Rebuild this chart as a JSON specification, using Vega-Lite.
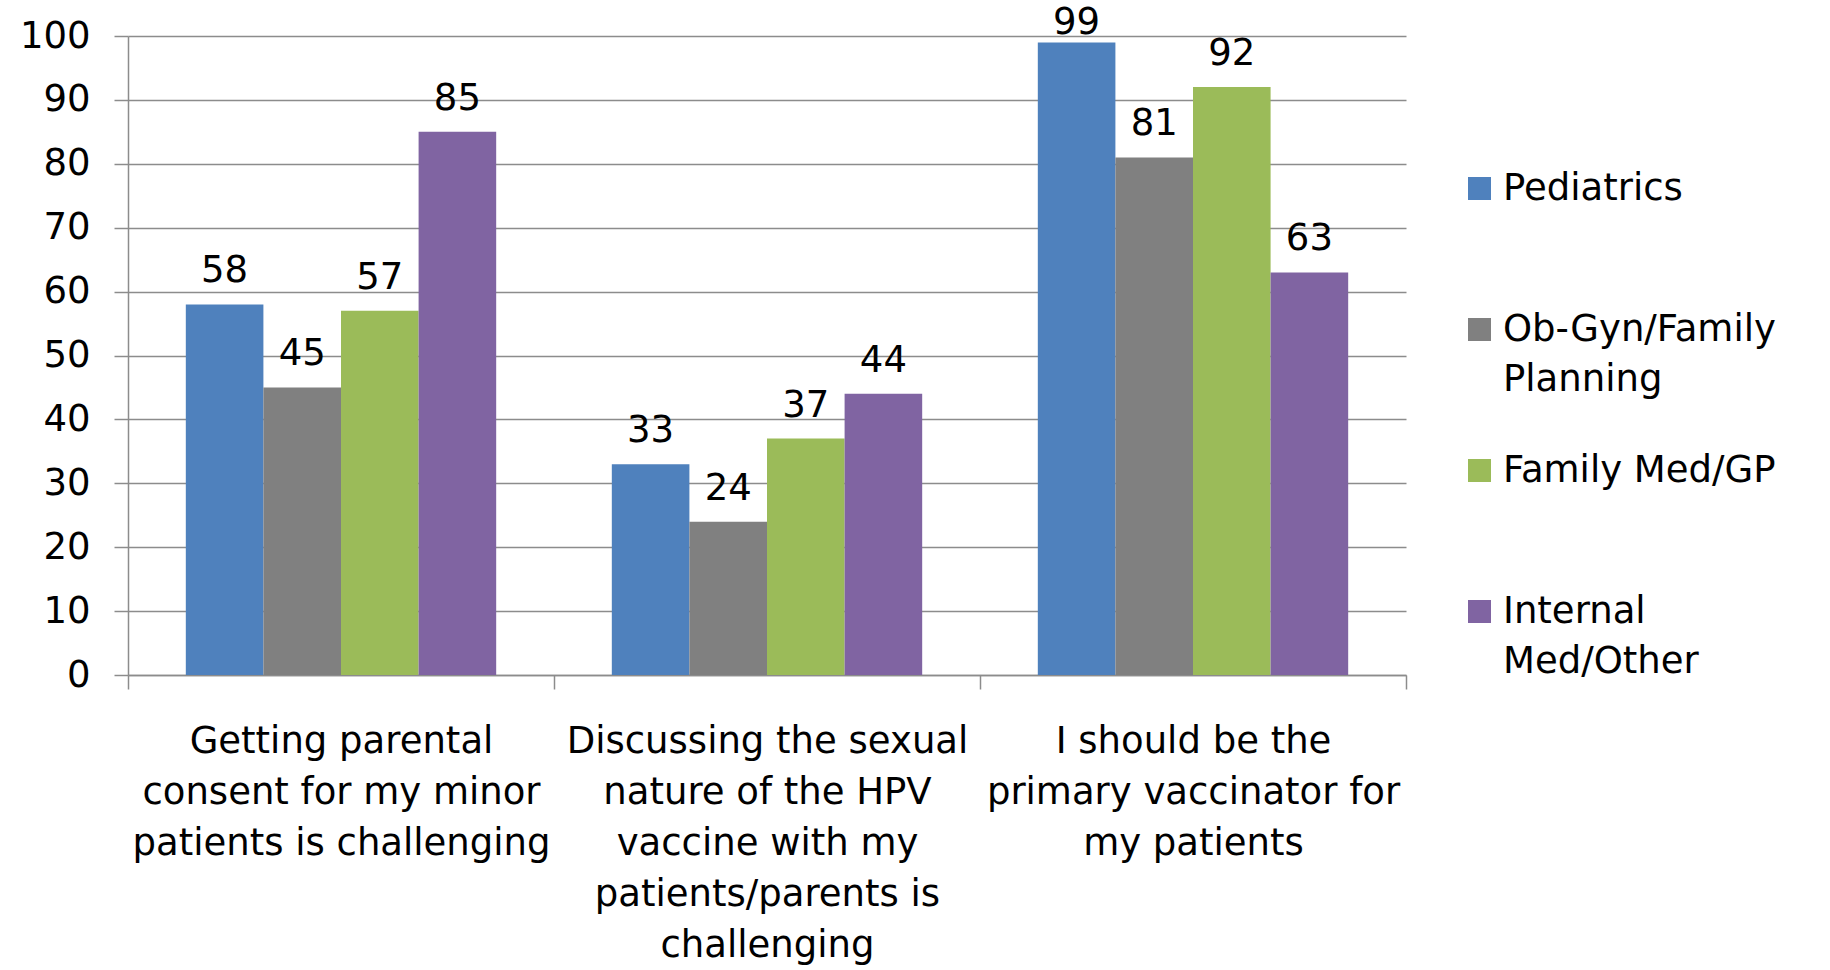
{
  "$schema": "https://vega.github.io/schema/vega-lite/v6.json",
  "autosize": {"type": "none"},
  "width": 1278,
  "height": 639,
  "padding": {"left": 128, "top": 36, "right": 424, "bottom": 295},
  "background": "white",
  "config": {
    "font": "DejaVu Sans",
    "view": {"stroke": null},
    "style": {"guide-label": {"lineHeight": 50}},
    "axis": {"domainColor": "#8c8c8c", "tickColor": "#8c8c8c", "gridColor": "#8c8c8c", "labelColor": "black", "labelFont": "DejaVu Sans"}
  },
  "data": {
    "values": [
      {"statement": "Getting parental consent for my minor patients is challenging", "specialty": "Pediatrics", "value": 58},
      {"statement": "Getting parental consent for my minor patients is challenging", "specialty": "Ob-Gyn/Family Planning", "value": 45},
      {"statement": "Getting parental consent for my minor patients is challenging", "specialty": "Family Med/GP", "value": 57},
      {"statement": "Getting parental consent for my minor patients is challenging", "specialty": "Internal Med/Other", "value": 85},
      {"statement": "Discussing the sexual nature of the HPV vaccine with my patients/parents is challenging", "specialty": "Pediatrics", "value": 33},
      {"statement": "Discussing the sexual nature of the HPV vaccine with my patients/parents is challenging", "specialty": "Ob-Gyn/Family Planning", "value": 24},
      {"statement": "Discussing the sexual nature of the HPV vaccine with my patients/parents is challenging", "specialty": "Family Med/GP", "value": 37},
      {"statement": "Discussing the sexual nature of the HPV vaccine with my patients/parents is challenging", "specialty": "Internal Med/Other", "value": 44},
      {"statement": "I should be the primary vaccinator for my patients", "specialty": "Pediatrics", "value": 99},
      {"statement": "I should be the primary vaccinator for my patients", "specialty": "Ob-Gyn/Family Planning", "value": 81},
      {"statement": "I should be the primary vaccinator for my patients", "specialty": "Family Med/GP", "value": 92},
      {"statement": "I should be the primary vaccinator for my patients", "specialty": "Internal Med/Other", "value": 63}
    ]
  },
  "encoding": {
    "x": {
      "field": "statement", "type": "nominal", "sort": null, "title": null,
      "scale": {"paddingInner": 0, "paddingOuter": 0},
      "axis": {
        "labelAngle": 0, "labelFontSize": 37, "labelLineHeight": 51, "labelBaseline": "top",
        "tickSize": 14, "labelPadding": 34, "domainWidth": 1.5, "tickWidth": 1.5,
        "tickBand": "extent", "labelLimit": 0,
        "labelExpr": "datum.value == 'Getting parental consent for my minor patients is challenging' ? ['Getting parental', 'consent for my minor', 'patients is challenging'] : datum.value == 'I should be the primary vaccinator for my patients' ? ['I should be the', 'primary vaccinator for', 'my patients'] : datum.value == 'Discussing the sexual nature of the HPV vaccine with my patients/parents is challenging' ? ['Discussing the sexual', 'nature of the HPV', 'vaccine with my', 'patients/parents is', 'challenging'] : ''"
      }
    },
    "xOffset": {"field": "specialty", "type": "nominal", "sort": ["Pediatrics", "Ob-Gyn/Family Planning", "Family Med/GP", "Internal Med/Other"], "scale": {"paddingInner": 0, "paddingOuter": 0.745}},
    "y": {
      "field": "value", "type": "quantitative", "title": null,
      "scale": {"domain": [0, 100]},
      "axis": {"values": [0,10,20,30,40,50,60,70,80,90,100], "grid": true, "gridWidth": 1.5, "tickSize": 14, "tickWidth": 1.5, "domainWidth": 1.5, "labelFontSize": 37, "labelPadding": 24}
    }
  },
  "layer": [
    {
      "mark": {"type": "bar"},
      "encoding": {
        "color": {
          "field": "specialty", "type": "nominal",
          "sort": ["Pediatrics", "Ob-Gyn/Family Planning", "Family Med/GP", "Internal Med/Other"],
          "scale": {"domain": ["Pediatrics", "Ob-Gyn/Family Planning", "Family Med/GP", "Internal Med/Other"], "range": ["#4F81BD", "#808080", "#9BBB59", "#8064A2"]},
          "legend": {
            "title": null, "orient": "none", "legendX": 1333, "legendY": 134,
            "symbolType": "square", "symbolSize": 530, "symbolStrokeWidth": 0, "symbolOpacity": 1,
            "labelFontSize": 37, "labelLimit": 0, "labelOffset": 5, "rowPadding": 53,
            "labelBaseline": "middle",
            "labelExpr": "datum.value == 'Ob-Gyn/Family Planning' ? ['Ob-Gyn/Family', 'Planning'] : datum.value == 'Internal Med/Other' ? ['Internal', 'Med/Other'] : [datum.value, '']"
          }
        }
      }
    },
    {
      "transform": [{"filter": "datum.value < 95"}],
      "mark": {"type": "text", "baseline": "bottom", "dy": -14, "fontSize": 37, "color": "black"},
      "encoding": {"text": {"field": "value", "type": "quantitative"}}
    },
    {
      "transform": [{"filter": "datum.value >= 95"}],
      "mark": {"type": "text", "baseline": "bottom", "dy": 0, "fontSize": 37, "color": "black"},
      "encoding": {"text": {"field": "value", "type": "quantitative"}}
    }
  ]
}
